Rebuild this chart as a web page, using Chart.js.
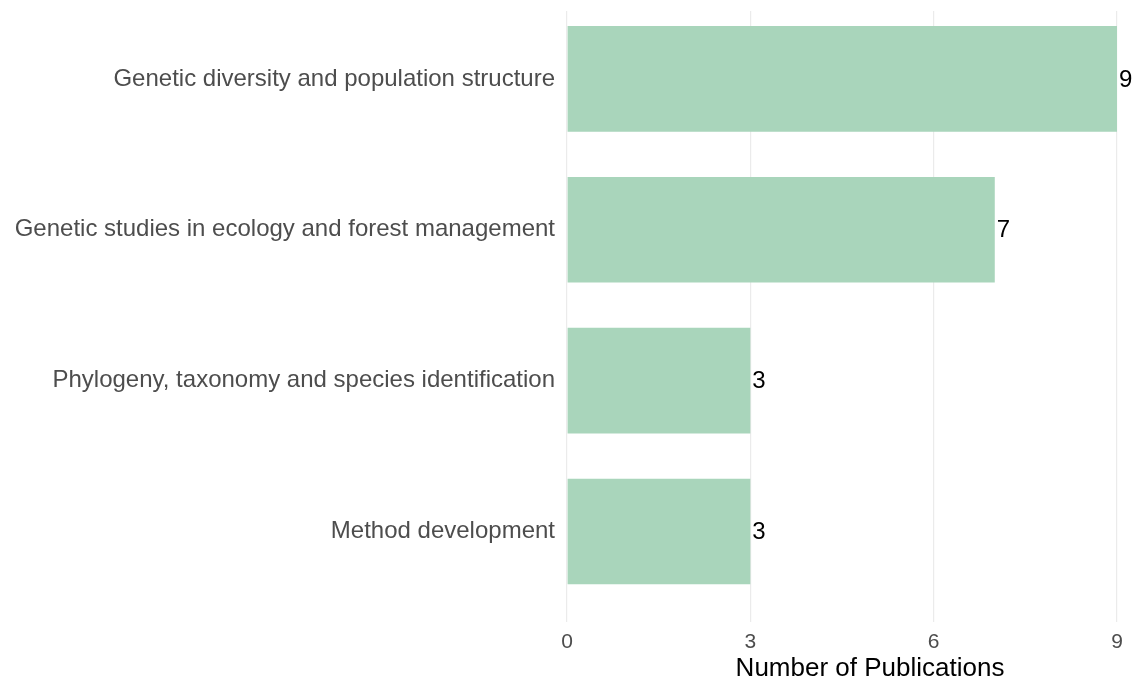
<!DOCTYPE html>
<html>
<head>
<meta charset="utf-8">
<script src="https://cdn.jsdelivr.net/npm/chart.js@4"></script>
<style>
  html, body { margin: 0; padding: 0; background: #fff; }
  #wrap { width: 1136px; height: 684px; }
</style>
</head>
<body>
<div id="wrap"><canvas id="chart" width="1136" height="684"></canvas></div>
<script>
// research topics and publication counts
const topics = [
    'Genetic diversity and population structure',
    'Genetic studies in ecology and forest management',
    'Phylogeny, taxonomy and species identification',
    'Method development'
];
const publications = [9, 7, 3, 3];
const xTicks = [0, 3, 6, 9];
const xTitle = 'Number of Publications';

const barColor = '#a9d5bb';
const font = 'Liberation Sans, Arial, sans-serif';

// numbers written at the end of each bar
const valueLabels = {
    id: 'valueLabels',
    afterDatasetsDraw(chart) {
        const ctx = chart.ctx;
        const meta = chart.getDatasetMeta(0);
        ctx.save();
        ctx.font = '24px ' + font;
        ctx.fillStyle = '#000';
        ctx.textAlign = 'left';
        ctx.textBaseline = 'middle';
        meta.data.forEach((bar, i) => {
            ctx.fillText(String(publications[i]), bar.x + 2, bar.y + 1);
        });
        ctx.restore();
    }
};

// axis title, placed like the original (a bit right of the panel centre)
const axisTitle = {
    id: 'axisTitle',
    afterDraw(chart) {
        const ctx = chart.ctx;
        const area = chart.chartArea;
        ctx.save();
        ctx.font = '26px ' + font;
        ctx.fillStyle = '#000';
        ctx.textAlign = 'center';
        ctx.textBaseline = 'middle';
        ctx.fillText(xTitle, (area.left + area.right) / 2 + 28, 669);
        ctx.restore();
    }
};

new Chart(document.getElementById('chart'), {
    type: 'bar',
    data: {
        datasets: [{
            data: publications.map((v, i) => ({ x: v, y: i })),
            backgroundColor: barColor,
            borderWidth: 0,
            categoryPercentage: 1,
            barPercentage: 0.7
        }]
    },
    options: {
        indexAxis: 'y',
        responsive: false,
        animation: false,
        layout: { padding: { top: 0, right: 19, bottom: 0, left: 0 } },
        plugins: {
            legend: { display: false },
            tooltip: { enabled: false }
        },
        scales: {
            x: {
                type: 'linear',
                min: 0,
                max: 9,
                afterBuildTicks: scale => { scale.ticks = xTicks.map(v => ({ value: v })); },
                afterFit: scale => { scale.height = 62; },
                grid: { color: '#ebebeb', lineWidth: 1.2, drawTicks: false },
                border: { display: false },
                ticks: {
                    padding: 8,
                    color: '#4d4d4d',
                    font: { family: font, size: 21 }
                }
            },
            y: {
                type: 'linear',
                reverse: true,
                offset: false,
                bounds: 'data',
                min: -0.45,
                max: 3.6,
                afterBuildTicks: scale => { scale.ticks = topics.map((t, i) => ({ value: i })); },
                afterFit: scale => {
                    scale.width = 567;
                    scale.paddingTop = 11;
                    scale.paddingBottom = 0;
                },
                grid: { display: false, drawTicks: false },
                border: { display: false },
                ticks: {
                    padding: 12,
                    color: '#4d4d4d',
                    font: { family: font, size: 24, lineHeight: 0.9 },
                    callback: v => topics[v]
                }
            }
        }
    },
    plugins: [valueLabels, axisTitle]
});
</script>
</body>
</html>
